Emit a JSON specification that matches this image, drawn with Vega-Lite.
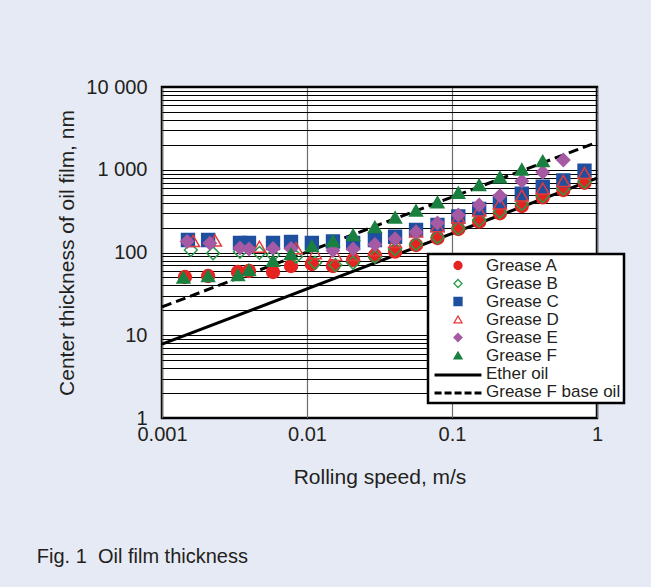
{
  "$schema": "https://vega.github.io/schema/vega-lite/v6.json",
  "width": 435,
  "height": 331,
  "autosize": {"type": "none"},
  "padding": {"left": 162, "top": 87, "right": 54, "bottom": 169},
  "background": "#e6eaf4",
  "title": {
    "text": "Fig. 1\u00a0 Oil film thickness",
    "orient": "bottom",
    "anchor": "start",
    "frame": "bounds",
    "fontSize": 20,
    "fontWeight": "normal",
    "color": "#231f20",
    "offset": 60,
    "dx": -20
  },
  "datasets": {
    "pts": [
      {"s": "Grease A", "v": 0.00144, "h": 50.6},
      {"s": "Grease A", "v": 0.00208, "h": 52.0},
      {"s": "Grease A", "v": 0.00334, "h": 58.1},
      {"s": "Grease A", "v": 0.00398, "h": 59.7},
      {"s": "Grease A", "v": 0.00583, "h": 58.1},
      {"s": "Grease A", "v": 0.00776, "h": 68.7},
      {"s": "Grease A", "v": 0.0108, "h": 72.6},
      {"s": "Grease A", "v": 0.0151, "h": 68.7},
      {"s": "Grease A", "v": 0.0208, "h": 81.2},
      {"s": "Grease A", "v": 0.0294, "h": 92},
      {"s": "Grease A", "v": 0.0405, "h": 102.3},
      {"s": "Grease A", "v": 0.0565, "h": 123.2},
      {"s": "Grease A", "v": 0.0794, "h": 149.6},
      {"s": "Grease A", "v": 0.1105, "h": 192.2},
      {"s": "Grease A", "v": 0.154, "h": 235.7},
      {"s": "Grease A", "v": 0.214, "h": 297.8},
      {"s": "Grease A", "v": 0.303, "h": 364.8},
      {"s": "Grease A", "v": 0.4225, "h": 464.4},
      {"s": "Grease A", "v": 0.586, "h": 569},
      {"s": "Grease A", "v": 0.82, "h": 697},
      {"s": "Grease B", "v": 0.00158, "h": 107.2},
      {"s": "Grease B", "v": 0.00225, "h": 97.8},
      {"s": "Grease B", "v": 0.00345, "h": 102.3},
      {"s": "Grease B", "v": 0.0047, "h": 99},
      {"s": "Grease B", "v": 0.00583, "h": 93.3},
      {"s": "Grease B", "v": 0.0084, "h": 89.0},
      {"s": "Grease B", "v": 0.01135, "h": 75.3},
      {"s": "Grease B", "v": 0.0157, "h": 70.6},
      {"s": "Grease B", "v": 0.0208, "h": 75.3},
      {"s": "Grease B", "v": 0.0294, "h": 89.0},
      {"s": "Grease B", "v": 0.0405, "h": 110},
      {"s": "Grease B", "v": 0.0565, "h": 127},
      {"s": "Grease B", "v": 0.0794, "h": 153},
      {"s": "Grease B", "v": 0.1105, "h": 196},
      {"s": "Grease B", "v": 0.154, "h": 247.1},
      {"s": "Grease B", "v": 0.214, "h": 311.3},
      {"s": "Grease B", "v": 0.303, "h": 385.6},
      {"s": "Grease B", "v": 0.4225, "h": 481.6},
      {"s": "Grease B", "v": 0.586, "h": 593},
      {"s": "Grease B", "v": 0.82, "h": 716.7},
      {"s": "Grease C", "v": 0.00151, "h": 141.6},
      {"s": "Grease C", "v": 0.00208, "h": 141.6},
      {"s": "Grease C", "v": 0.00345, "h": 130.3},
      {"s": "Grease C", "v": 0.00398, "h": 130.3},
      {"s": "Grease C", "v": 0.00583, "h": 130.3},
      {"s": "Grease C", "v": 0.00776, "h": 133.9},
      {"s": "Grease C", "v": 0.0108, "h": 130.3},
      {"s": "Grease C", "v": 0.0151, "h": 135.8},
      {"s": "Grease C", "v": 0.0208, "h": 130.3},
      {"s": "Grease C", "v": 0.0294, "h": 141.6},
      {"s": "Grease C", "v": 0.0405, "h": 155.2},
      {"s": "Grease C", "v": 0.0565, "h": 187},
      {"s": "Grease C", "v": 0.0794, "h": 214.9},
      {"s": "Grease C", "v": 0.1105, "h": 272.5},
      {"s": "Grease C", "v": 0.154, "h": 335.5},
      {"s": "Grease C", "v": 0.214, "h": 411},
      {"s": "Grease C", "v": 0.303, "h": 513.6},
      {"s": "Grease C", "v": 0.4225, "h": 623.7},
      {"s": "Grease C", "v": 0.586, "h": 745},
      {"s": "Grease C", "v": 0.82, "h": 975},
      {"s": "Grease D", "v": 0.00164, "h": 137.7},
      {"s": "Grease D", "v": 0.00232, "h": 139.6},
      {"s": "Grease D", "v": 0.0047, "h": 117.5},
      {"s": "Grease D", "v": 0.0084, "h": 112.4},
      {"s": "Grease D", "v": 0.01135, "h": 97.8},
      {"s": "Grease D", "v": 0.0157, "h": 93.3},
      {"s": "Grease D", "v": 0.0208, "h": 93.3},
      {"s": "Grease D", "v": 0.0294, "h": 107.2},
      {"s": "Grease D", "v": 0.0405, "h": 133.9},
      {"s": "Grease D", "v": 0.0565, "h": 180},
      {"s": "Grease D", "v": 0.0794, "h": 208},
      {"s": "Grease D", "v": 0.1105, "h": 266},
      {"s": "Grease D", "v": 0.154, "h": 322},
      {"s": "Grease D", "v": 0.214, "h": 391},
      {"s": "Grease D", "v": 0.303, "h": 488},
      {"s": "Grease D", "v": 0.4225, "h": 593},
      {"s": "Grease D", "v": 0.586, "h": 731},
      {"s": "Grease D", "v": 0.82, "h": 914},
      {"s": "Grease E", "v": 0.00149, "h": 135.8},
      {"s": "Grease E", "v": 0.00214, "h": 129.2},
      {"s": "Grease E", "v": 0.00345, "h": 113.3},
      {"s": "Grease E", "v": 0.00398, "h": 110.2},
      {"s": "Grease E", "v": 0.00583, "h": 111.7},
      {"s": "Grease E", "v": 0.00776, "h": 111.7},
      {"s": "Grease E", "v": 0.0151, "h": 105.7},
      {"s": "Grease E", "v": 0.0208, "h": 110.2},
      {"s": "Grease E", "v": 0.0294, "h": 125},
      {"s": "Grease E", "v": 0.0405, "h": 146.8},
      {"s": "Grease E", "v": 0.0565, "h": 176.9},
      {"s": "Grease E", "v": 0.0794, "h": 227.4},
      {"s": "Grease E", "v": 0.1105, "h": 284},
      {"s": "Grease E", "v": 0.154, "h": 375.2},
      {"s": "Grease E", "v": 0.214, "h": 485.8},
      {"s": "Grease E", "v": 0.303, "h": 731},
      {"s": "Grease E", "v": 0.4225, "h": 931},
      {"s": "Grease E", "v": 0.586, "h": 1312},
      {"s": "Grease F", "v": 0.001406, "h": 49.9},
      {"s": "Grease F", "v": 0.00208, "h": 52.0},
      {"s": "Grease F", "v": 0.00334, "h": 53.5},
      {"s": "Grease F", "v": 0.00398, "h": 61.5},
      {"s": "Grease F", "v": 0.00583, "h": 79.6},
      {"s": "Grease F", "v": 0.00776, "h": 96.0},
      {"s": "Grease F", "v": 0.0108, "h": 119.9},
      {"s": "Grease F", "v": 0.0151, "h": 137.7},
      {"s": "Grease F", "v": 0.0208, "h": 162.7},
      {"s": "Grease F", "v": 0.0294, "h": 203.1},
      {"s": "Grease F", "v": 0.0405, "h": 266.1},
      {"s": "Grease F", "v": 0.0565, "h": 322},
      {"s": "Grease F", "v": 0.0794, "h": 404.3},
      {"s": "Grease F", "v": 0.1105, "h": 528.3},
      {"s": "Grease F", "v": 0.154, "h": 654.6},
      {"s": "Grease F", "v": 0.214, "h": 810.5},
      {"s": "Grease F", "v": 0.303, "h": 1012},
      {"s": "Grease F", "v": 0.4225, "h": 1276}
    ],
    "lines": [
      {"s": "Ether oil", "v": 0.001, "h": 7.8},
      {"s": "Ether oil", "v": 1, "h": 790},
      {"s": "Grease F base oil", "v": 0.001, "h": 22},
      {"s": "Grease F base oil", "v": 1, "h": 2150}
    ]
  },
  "encoding": {
    "x": {
      "field": "v",
      "type": "quantitative",
      "scale": {"type": "log", "domain": [0.001, 1], "nice": false},
      "axis": {
        "title": "Rolling speed, m/s",
        "values": [0.001, 0.01, 0.1, 1],
        "format": ".3~f",
        "labelFlush": false,
        "labelOverlap": false,
        "ticks": false,
        "domain": false,
        "labelPadding": 6,
        "titlePadding": 22,
        "gridColor": "#6d6d6d",
        "gridWidth": 1.2,
        "gridOpacity": 1
      }
    },
    "y": {
      "field": "h",
      "type": "quantitative",
      "scale": {"type": "log", "domain": [1, 10000], "nice": false},
      "axis": {
        "title": "Center thickness of oil film, nm",
        "values": [1,2,3,4,5,6,7,8,9,10,20,30,40,50,60,70,80,90,100,200,300,400,500,600,700,800,900,1000,2000,3000,4000,5000,6000,7000,8000,9000,10000],
        "format": ".0f",
        "labelExpr": "datum.value == 10000 ? '10 000' : datum.value == 1000 ? '1 000' : (datum.value == 100 || datum.value == 10 || datum.value == 1) ? datum.label : ''",
        "labelFlush": false,
        "labelOverlap": false,
        "ticks": false,
        "domain": false,
        "labelPadding": 15,
        "titlePadding": 8,
        "gridColor": "#000000",
        "gridWidth": 1,
        "gridOpacity": 1
      }
    }
  },
  "layer": [
    {
      "data": {"name": "lines"},
      "transform": [{"filter": "datum.s == 'Ether oil'"}],
      "mark": {"type": "line", "color": "#000000", "strokeWidth": 3},
      "encoding": {}
    },
    {
      "data": {"name": "lines"},
      "transform": [{"filter": "datum.s == 'Grease F base oil'"}],
      "mark": {"type": "line", "color": "#000000", "strokeWidth": 3, "strokeDash": [10, 5]},
      "encoding": {}
    },
    {
      "data": {"name": "pts"},
      "mark": {"type": "point", "size": 165, "strokeWidth": 1.5, "opacity": 1},
      "encoding": {
        "fill": {
          "field": "s", "type": "nominal",
          "scale": {
            "domain": ["Grease A", "Grease B", "Grease C", "Grease D", "Grease E", "Grease F", "Ether oil", "Grease F base oil"],
            "range": ["#e52421", "transparent", "#1f4f9f", "transparent", "#a55aa3", "#1a8040", "transparent", "transparent"]
          },
          "legend": {
            "title": null, "orient": "none", "legendX": 266, "legendY": 167,
            "padding": 3, "rowPadding": 0, "labelFontSize": 17, "labelOffset": 19.5,
            "labelExpr": "datum.label + '\u00a0\u00a0\u00a0\u00a0'",
            "symbolOffset": 18.5, "symbolSize": 64, "symbolStrokeWidth": 1.3,
            "fillColor": "#ffffff", "strokeColor": "#000000", "symbolOpacity": 1
          }
        },
        "stroke": {
          "field": "s", "type": "nominal",
          "scale": {
            "domain": ["Grease A", "Grease B", "Grease C", "Grease D", "Grease E", "Grease F", "Ether oil", "Grease F base oil"],
            "range": ["#e52421", "#2a9a48", "#1f4f9f", "#e8393a", "#a55aa3", "#1a8040", "transparent", "transparent"]
          },
          "legend": {
            "title": null, "orient": "none", "legendX": 266, "legendY": 167,
            "padding": 3, "rowPadding": 0, "labelFontSize": 17, "labelOffset": 19.5,
            "labelExpr": "datum.label + '\u00a0\u00a0\u00a0\u00a0'",
            "symbolOffset": 18.5, "symbolSize": 64, "symbolStrokeWidth": 1.3,
            "fillColor": "#ffffff", "strokeColor": "#000000", "symbolOpacity": 1
          }
        },
        "shape": {
          "field": "s", "type": "nominal",
          "scale": {
            "domain": ["Grease A", "Grease B", "Grease C", "Grease D", "Grease E", "Grease F", "Ether oil", "Grease F base oil"],
            "range": ["circle", "diamond", "square", "triangle-up", "diamond", "triangle-up", "circle", "circle"]
          },
          "legend": {
            "title": null, "orient": "none", "legendX": 266, "legendY": 167,
            "padding": 3, "rowPadding": 0, "labelFontSize": 17, "labelOffset": 19.5,
            "labelExpr": "datum.label + '\u00a0\u00a0\u00a0\u00a0'",
            "symbolOffset": 18.5, "symbolSize": 64, "symbolStrokeWidth": 1.3,
            "fillColor": "#ffffff", "strokeColor": "#000000", "symbolOpacity": 1
          }
        }
      }
    },
    {
      "data": {"name": "lines"},
      "transform": [{"filter": "datum.s == 'Ether oil'"}],
      "mark": {"type": "line", "color": "#000000", "strokeWidth": 3, "opacity": 0},
      "encoding": {
        "strokeDash": {
          "field": "s", "type": "nominal",
          "scale": {"domain": ["Ether oil"], "range": [[1, 0]]},
          "legend": {
            "title": null, "orient": "none", "legendX": 268, "legendY": 260,
            "padding": 3, "labelFontSize": 17,
            "labelColor": "transparent", "labelExpr": "' '",
            "symbolType": "stroke", "symbolSize": 2200, "symbolStrokeWidth": 3,
            "symbolStrokeColor": "#000000", "symbolOpacity": 1,
            "fillColor": "transparent", "strokeColor": "transparent"
          }
        }
      }
    },
    {
      "data": {"name": "lines"},
      "transform": [{"filter": "datum.s == 'Grease F base oil'"}],
      "mark": {"type": "line", "color": "#000000", "strokeWidth": 3, "opacity": 0},
      "encoding": {
        "strokeDash": {
          "field": "s", "type": "nominal",
          "scale": {"domain": ["Grease F base oil"], "range": [[7, 3]]},
          "legend": {
            "title": null, "orient": "none", "legendX": 268, "legendY": 278,
            "padding": 3, "labelFontSize": 17,
            "labelColor": "transparent", "labelExpr": "' '",
            "symbolType": "stroke", "symbolSize": 2200, "symbolStrokeWidth": 3,
            "symbolStrokeColor": "#000000", "symbolOpacity": 1,
            "fillColor": "transparent", "strokeColor": "transparent"
          }
        }
      }
    }
  ],
  "resolve": {
    "scale": {"strokeDash": "independent"},
    "legend": {"strokeDash": "independent"}
  },
  "config": {
    "font": "Liberation Sans",
    "view": {"stroke": "#000000", "strokeWidth": 2.5, "fill": "#ffffff"},
    "axis": {
      "labelFont": "Liberation Sans",
      "titleFont": "Liberation Sans",
      "labelFontSize": 20,
      "titleFontSize": 21,
      "titleFontWeight": "normal",
      "labelColor": "#231f20",
      "titleColor": "#231f20"
    },
    "legend": {
      "labelFont": "Liberation Sans",
      "labelColor": "#231f20",
      "strokeWidth": 2.5
    }
  }
}
